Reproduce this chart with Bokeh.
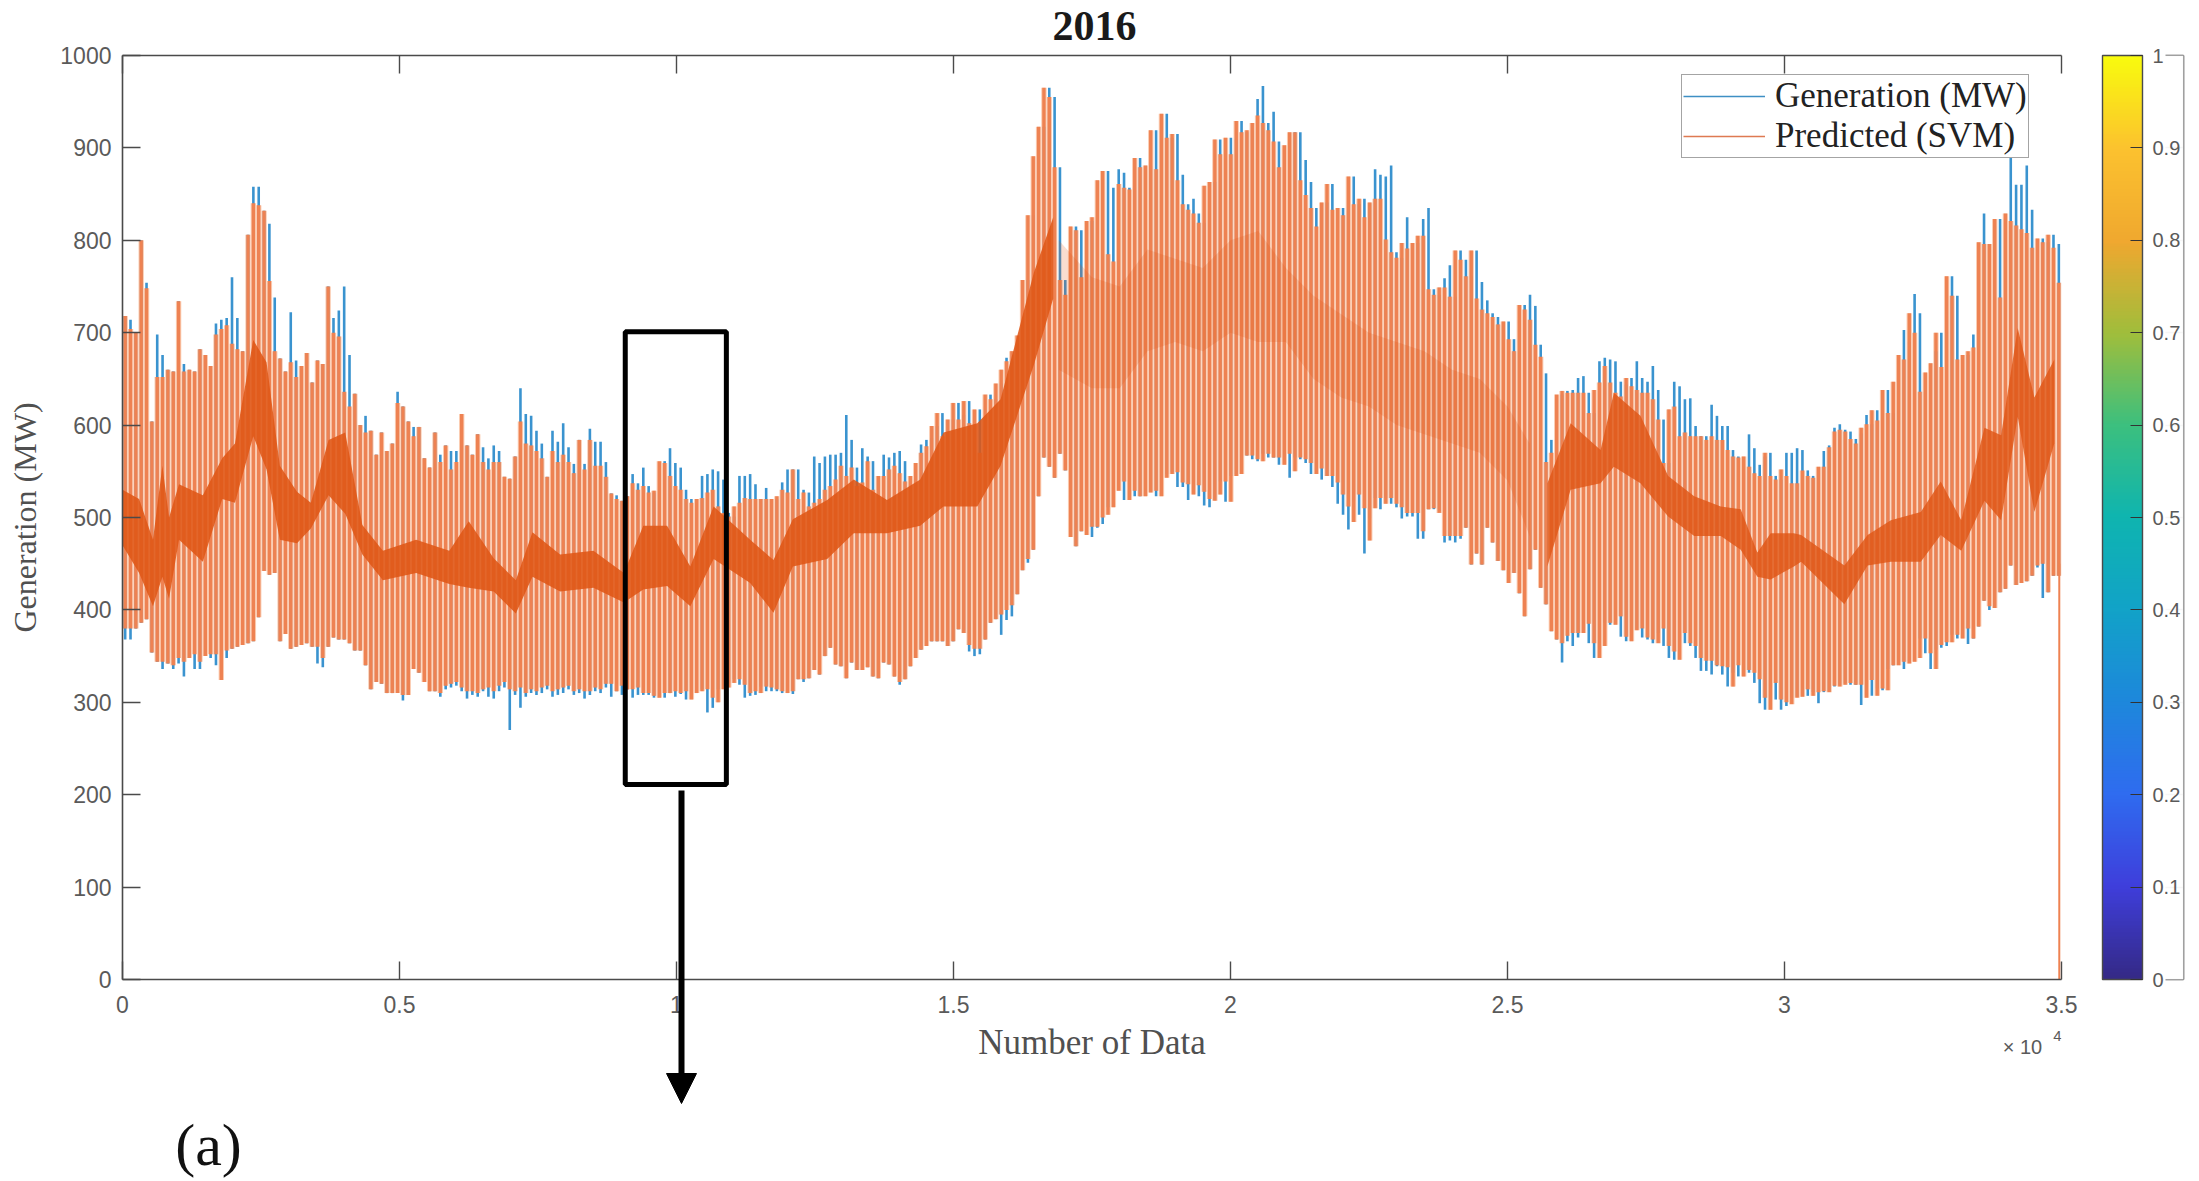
import numpy as np
from bokeh.plotting import figure
from bokeh.layouts import column
from bokeh.embed import file_html
from bokeh.resources import INLINE
from bokeh.models import (LinearAxis, FixedTicker, Range1d, Legend, LegendItem, ColorBar,
                          LinearColorMapper, Label, Arrow, NormalHead)

title_text = "2016"
x_label = "Number of Data"
y_label = "Generation (MW)"
series_names = ["Generation (MW)", "Predicted (SVM)"]
x_ticks = [0, 5000, 10000, 15000, 20000, 25000, 30000, 35000]
x_tick_labels = ["0", "0.5", "1", "1.5", "2", "2.5", "3", "3.5"]
y_ticks = [0, 100, 200, 300, 400, 500, 600, 700, 800, 900, 1000]
cbar_ticks = [0, 0.1, 0.2, 0.3, 0.4, 0.5, 0.6, 0.7, 0.8, 0.9, 1]
cbar_tick_labels = ["0", "0.1", "0.2", "0.3", "0.4", "0.5", "0.6", "0.7", "0.8", "0.9", "1"]

pred_peak = [718,704,700,800,748,604,652,652,660,658,734,658,660,658,682,676,664,698,704,708,688,682,680,806,840,838,832,756,680,672,658,668,652,664,678,646,670,666,750,700,696,636,620,634,600,592,594,568,592,572,580,624,620,604,588,598,564,554,592,560,578,552,560,612,578,568,590,560,552,560,560,544,542,566,604,580,578,572,564,544,572,560,568,560,548,584,552,584,556,556,544,526,520,
518,523,537,530,534,527,529,561,559,545,534,530,520,516,520,521,527,530,512,505,501,512,516,521,520,520,520,520,520,523,530,527,552,520,527,512,516,520,530,534,541,556,545,554,534,538,561,530,545,545,552,556,548,539,545,559,570,577,599,613,588,606,624,606,626,602,617,570,633,628,
645,660,669,680,697,757,827,891,923,965,955,879,757,741,815,811,760,821,825,865,875,785,777,861,857,855,889,879,881,919,877,937,911,915,865,839,833,829,819,859,863,909,893,911,893,929,917,919,927,935,927,919,907,879,903,917,917,865,849,835,815,841,861,833,835,827,869,839,845,825,841,845,845,801,787,781,797,791,797,805,805,747,741,749,749,739,789,779,761,789,737,725,721,717,
709,712,693,680,730,725,714,687,674,560,570,633,637,635,635,635,635,613,638,646,664,646,635,631,651,642,638,635,635,628,606,559,617,620,588,592,588,588,588,584,588,584,584,573,566,565,566,555,548,545,570,545,541,552,545,537,537,
551,545,543,555,555,576,593,595,593,585,580,597,601,616,605,638,613,647,676,671,721,700,636,657,667,700,663,761,740,671,676,680,684,798,796,796,823,738,829,821,816,812,808,792,802,798,806,792,754]

gen_peak = [718,714,700,800,754,604,698,676,660,658,734,666,660,658,682,676,664,710,714,716,760,716,680,806,858,858,832,818,738,672,658,722,670,664,678,646,670,666,750,716,724,750,676,634,600,610,594,568,592,572,580,636,620,604,598,598,564,554,592,568,578,572,572,612,578,568,590,576,564,578,572,544,542,566,640,612,610,594,580,544,594,582,602,576,558,584,558,596,582,582,560,526,524,
518,523,547,537,554,534,527,529,561,575,559,554,530,520,516,545,547,552,550,541,505,501,545,545,547,536,520,532,520,520,538,552,552,552,530,527,566,559,566,568,568,570,611,584,554,575,566,561,530,568,565,570,572,561,539,545,579,584,586,599,613,588,606,624,611,626,610,617,584,633,628,
645,673,669,689,697,757,827,917,923,965,955,879,757,795,815,811,777,821,825,865,875,857,877,873,857,855,889,879,881,919,893,937,911,915,871,839,845,829,819,859,863,909,907,911,909,929,917,919,953,967,927,939,907,879,903,917,917,887,863,835,815,841,861,833,835,827,869,839,845,839,877,871,869,881,787,781,825,791,797,823,835,747,741,759,773,739,789,779,761,789,755,735,721,717,
709,712,693,680,730,741,729,687,656,584,581,633,637,638,651,653,635,613,669,673,671,669,647,644,651,669,651,647,664,638,606,559,647,642,628,629,599,588,588,622,610,599,599,573,566,565,590,575,557,566,570,545,541,570,570,575,573,
551,545,543,572,578,597,601,595,593,585,591,611,601,616,613,638,613,669,703,690,742,721,636,657,680,700,678,761,740,671,676,698,700,829,796,816,823,738,889,860,860,881,833,800,802,798,806,796,754]

pred_low = [380,380,386,390,354,344,344,342,340,348,344,348,352,344,350,352,352,324,356,358,360,362,364,366,392,442,438,440,366,374,358,360,362,364,360,360,348,360,370,368,368,364,356,356,340,314,322,320,310,310,310,308,308,336,332,322,312,312,310,318,320,322,316,312,312,310,314,316,312,318,322,314,312,316,310,314,312,316,318,312,314,316,318,312,314,312,312,316,314,320,312,318,314,
314,316,310,310,307,305,310,310,312,310,312,303,310,312,314,305,300,314,316,321,325,319,310,312,310,317,316,314,312,310,312,325,325,326,335,330,350,359,341,339,326,343,335,335,338,328,326,343,341,328,322,325,339,348,357,361,366,366,366,361,366,379,375,362,358,358,368,386,390,
395,400,405,417,443,455,465,523,565,555,543,569,551,479,469,485,481,490,500,503,511,529,539,519,529,523,523,527,529,523,543,547,549,538,536,525,535,528,520,518,525,539,517,545,547,567,567,563,561,569,565,565,557,569,550,565,563,559,547,553,545,545,538,525,512,495,525,510,475,510,521,515,521,515,511,505,505,505,485,509,510,505,480,480,480,480,489,449,461,449,489,473,453,443,
429,440,418,393,444,465,424,406,377,368,364,372,375,375,385,364,348,361,386,384,393,371,366,378,380,370,368,364,380,361,355,346,375,364,361,348,345,345,340,339,338,317,340,328,335,332,325,305,292,321,303,300,298,305,306,314,
307,311,312,311,318,317,319,321,319,319,305,324,307,315,313,340,340,344,342,344,348,369,353,336,362,365,365,373,369,380,369,382,410,404,402,419,423,448,427,429,431,437,448,450,419,437,437]

gen_low = [368,380,386,390,354,344,336,342,336,342,328,348,336,336,350,348,340,324,348,358,360,362,364,366,392,442,438,440,366,374,358,360,362,364,360,342,338,360,370,368,368,364,356,356,340,314,322,320,310,310,310,302,308,336,332,322,312,312,306,314,316,318,312,304,308,306,312,306,304,312,316,270,308,294,306,310,308,310,314,306,308,310,314,308,310,304,308,312,310,316,306,312,308,
314,305,308,308,308,305,307,305,310,306,309,303,308,312,314,289,294,314,316,321,325,319,305,307,308,317,312,312,310,310,309,325,322,326,335,330,350,359,341,339,326,343,335,335,338,328,326,343,341,328,319,325,339,348,357,361,366,366,366,361,366,379,375,355,350,352,368,386,390,
373,389,393,417,443,451,465,523,565,555,543,569,551,479,469,485,481,479,489,493,511,529,539,519,529,523,523,527,529,523,543,547,549,533,533,519,535,523,513,511,519,539,517,545,547,567,567,563,561,569,565,565,557,569,543,565,563,559,547,553,541,545,533,515,503,487,517,503,461,499,521,509,521,515,511,499,501,501,477,509,509,507,473,475,473,477,489,449,461,449,489,473,453,443,
429,440,418,393,444,465,424,406,377,368,343,366,361,370,382,364,348,361,386,384,393,371,366,371,379,370,368,364,375,361,348,346,375,364,361,348,334,334,330,339,330,317,332,328,335,332,321,299,292,321,303,292,296,305,306,314,
307,311,299,311,312,317,319,321,319,319,297,324,307,315,313,336,340,344,336,344,348,369,353,336,357,359,361,373,369,375,363,369,382,410,400,402,419,423,448,427,429,431,437,446,413,419,437,437]

band_left_x = [0,300,550,720,840,1020,1450,1800,2030,2360,2600,2840,3150,3400,3720,4020,4330,4700,5300,5900,6250,6700,7100,7400,7900,8500,9050,9400,9830,10250,10670,11330,11750,12100,12720,13200,13800,14400,14820,15430,15850,16450,16800]
band_left_lo = [470,440,404,436,412,476,452,520,516,588,552,476,472,488,524,504,460,432,440,428,424,420,396,436,420,424,408,422,426,404,455,429,397,447,455,483,483,491,512,512,556,665,737]
band_left_hi = [530,520,476,556,500,536,524,564,580,692,668,556,528,516,584,592,492,464,476,464,496,456,432,484,460,464,440,491,491,447,512,476,454,498,519,541,519,541,592,602,628,765,825]
band_mid_x = [16900,17500,18000,18500,19000,19500,20000,20500,21000,21500,22000,22500,23000,23500,24000,24500,25000,25400]
band_mid_lo = [660,640,640,680,690,680,700,690,690,650,630,620,600,590,580,570,540,480]
band_mid_hi = [800,760,750,790,780,770,800,810,770,740,720,700,690,680,660,650,620,580]
band_right_x = [25720,26140,26680,26920,27400,27900,28370,28850,29210,29510,29750,30170,30300,31080,31500,31920,32460,32820,33190,33610,33910,34210,34510,34870]
band_right_lo = [447,530,537,555,537,501,480,480,465,436,433,447,452,406,448,452,452,481,464,518,497,609,506,580]
band_right_hi = [537,602,573,635,610,545,523,512,509,462,483,483,481,448,481,497,506,539,497,597,589,705,630,671]

tail_x = [34960]
tail_hi = [450]
tail_lo = [0]

box_x = [9075, 10900]
box_y = [211, 701]

x_end, y_end = 35000, 1000
n_days = len(pred_peak)
day_x = (np.arange(n_days) + 0.5) * x_end / n_days

def on_days(values):
    return np.array(values)[(np.arange(n_days) * len(values) / n_days).astype(int)]

W, H = 2199, 1179
p = figure(width=W, height=H, output_backend="svg", toolbar_location=None,
           x_range=Range1d(0, x_end), y_range=Range1d(0, y_end),
           min_border_left=122, min_border_top=55, min_border_right=138, min_border_bottom=200,
           frame_width=1939, frame_height=924, x_axis_location=None, y_axis_location=None)
p.grid.visible = False
p.outline_line_color = None
p.background_fill_color = "white"

GRAY = "#4a4a4a"
LBL = "#5a5a5a"
def style(ax):
    ax.axis_line_color = GRAY
    ax.axis_line_width = 1.6
    ax.major_tick_line_color = GRAY
    ax.major_tick_line_width = 1.4
    ax.major_tick_in = 18
    ax.major_tick_out = 0
    ax.minor_tick_line_color = None
    ax.major_label_text_font = "Liberation Sans"
    ax.major_label_text_font_size = "23px"
    ax.major_label_text_color = LBL
    ax.axis_label_text_font = "Liberation Serif"
    ax.axis_label_text_font_style = "normal"
    ax.axis_label_text_color = "#505050"

bx = LinearAxis(ticker=FixedTicker(ticks=x_ticks), axis_label=x_label,
                major_label_overrides={t: l for t, l in zip(x_ticks, x_tick_labels)})
ly = LinearAxis(ticker=FixedTicker(ticks=y_ticks), axis_label=y_label)
tx = LinearAxis(ticker=FixedTicker(ticks=x_ticks))
ry = LinearAxis(ticker=FixedTicker(ticks=y_ticks))
for a in (bx, ly, tx, ry):
    style(a)
bx.axis_label_text_font_size = "35px"
ly.axis_label_text_font_size = "32px"
bx.major_label_standoff = 16
ly.major_label_standoff = 11
bx.axis_label_standoff = 7
ly.axis_label_standoff = 14
tx.major_label_overrides = {t: "" for t in x_ticks}
ry.major_label_overrides = {t: "" for t in y_ticks}
tx.major_label_standoff = 0
ry.major_label_standoff = 0
p.add_layout(bx, "below")
p.add_layout(ly, "left")
p.add_layout(tx, "above")

GEN = "#3A93CF"
PRED = "#EE8252"
PALE = "#FBCDB3"
BAND = "#DF5716"
p.segment(day_x, on_days(pred_low), day_x, on_days(pred_peak), line_color=PALE, line_width=5.4)
p.segment(day_x, on_days(gen_low), day_x, on_days(gen_peak), line_color=GEN, line_width=2.6)
p.segment(day_x, on_days(pred_low), day_x, on_days(pred_peak), line_color=PRED, line_width=3.4)
p.varea(band_left_x, band_left_lo, band_left_hi, fill_color=BAND, fill_alpha=0.88)
p.varea(band_mid_x, band_mid_lo, band_mid_hi, fill_color=BAND, fill_alpha=0.2)
p.varea(band_right_x, band_right_lo, band_right_hi, fill_color=BAND, fill_alpha=0.82)
p.segment(tail_x, tail_lo, tail_x, tail_hi, line_color=PRED, line_width=2)

p.quad(left=box_x[0], right=box_x[1], bottom=box_y[0], top=box_y[1], fill_color=None,
       line_color="black", line_width=5)

lg = p.line([0], [-100], line_color="#3F8FC4", line_width=1.6)
lo = p.line([0], [-100], line_color="#DE7A52", line_width=1.6)
legend = Legend(items=[LegendItem(label=series_names[0], renderers=[lg]),
                       LegendItem(label=series_names[1], renderers=[lo])],
                location=(1559, 821), glyph_width=82, glyph_height=30, label_standoff=10,
                label_text_font="Liberation Serif", label_text_font_size="35px",
                label_text_line_height=1.0,
                label_text_color="#222222", label_height=36, padding=1, spacing=0, margin=0,
                border_line_color=GRAY, border_line_width=1.6, background_fill_color="white",
                background_fill_alpha=1)
p.add_layout(legend, "center")

anchors = ["#352A87", "#3F3FDC", "#2F6CF0", "#1E88DC", "#12A3C8", "#0FB5B0", "#3CC07F", "#A0BE3C", "#F0A830", "#FCC22F", "#F9FB0E"]
rgb = np.array([[int(c[i:i + 2], 16) for i in (1, 3, 5)] for c in anchors], float)
t = np.linspace(0, 10, 256)
palette = ["#%02x%02x%02x" % tuple(int(np.interp(v, range(11), rgb[:, k])) for k in range(3)) for v in t]
cb = ColorBar(color_mapper=LinearColorMapper(palette=palette, low=0, high=1),
              ticker=FixedTicker(ticks=cbar_ticks),
              major_label_overrides={t_: l for t_, l in zip(cbar_ticks, cbar_tick_labels)},
              width=40, height=924, padding=0, margin=0, border_line_color=None,
              bar_line_color=GRAY, bar_line_width=1.4,
              major_tick_line_color="#333333", major_tick_in=12, major_tick_out=0,
              major_label_text_font="Liberation Sans", major_label_text_font_size="20px",
              major_label_text_color=LBL, label_standoff=10, location=(41, 0), minor_tick_line_color=None)
p.add_layout(cb, "right")
p.add_layout(ry, "right")

# transparent sheet over the whole page for the texts and the arrow outside the axes;
# its frame lines up with the main frame horizontally, so these ranges read in page pixels
q = figure(width=W, height=H, output_backend="svg", toolbar_location=None,
           x_range=Range1d(122, 2061), y_range=Range1d(H, 0), x_axis_location=None, y_axis_location=None,
           min_border=0, background_fill_color=None, border_fill_color=None, outline_line_color=None,
           styles={"position": "absolute", "left": "0px", "top": "0px"})
q.grid.visible = False
q.add_layout(Label(x=1094, y=25, text=title_text, text_font="Liberation Serif", text_font_size="42px",
                   text_font_style="bold", text_color="#1a1a1a", text_align="center", text_baseline="middle"))
q.add_layout(Label(x=2022, y=1046, text="\u00d7 10", text_font="Liberation Sans", text_font_size="20px",
                   text_color=LBL, text_align="center", text_baseline="middle"))
q.add_layout(Label(x=2057, y=1035, text="4", text_font="Liberation Sans", text_font_size="15px",
                   text_color=LBL, text_align="center", text_baseline="middle"))
q.add_layout(Label(x=208, y=1144, text="(a)", text_font="Liberation Serif", text_font_size="60px",
                   text_color="#111111", text_align="center", text_baseline="middle"))
q.add_layout(Arrow(end=NormalHead(size=30, fill_color="black", line_color="black"),
                   x_start=681, y_start=790, x_end=681, y_end=1103, line_color="black", line_width=6))

open("out.html", "w").write(file_html(column(p, q), INLINE))
